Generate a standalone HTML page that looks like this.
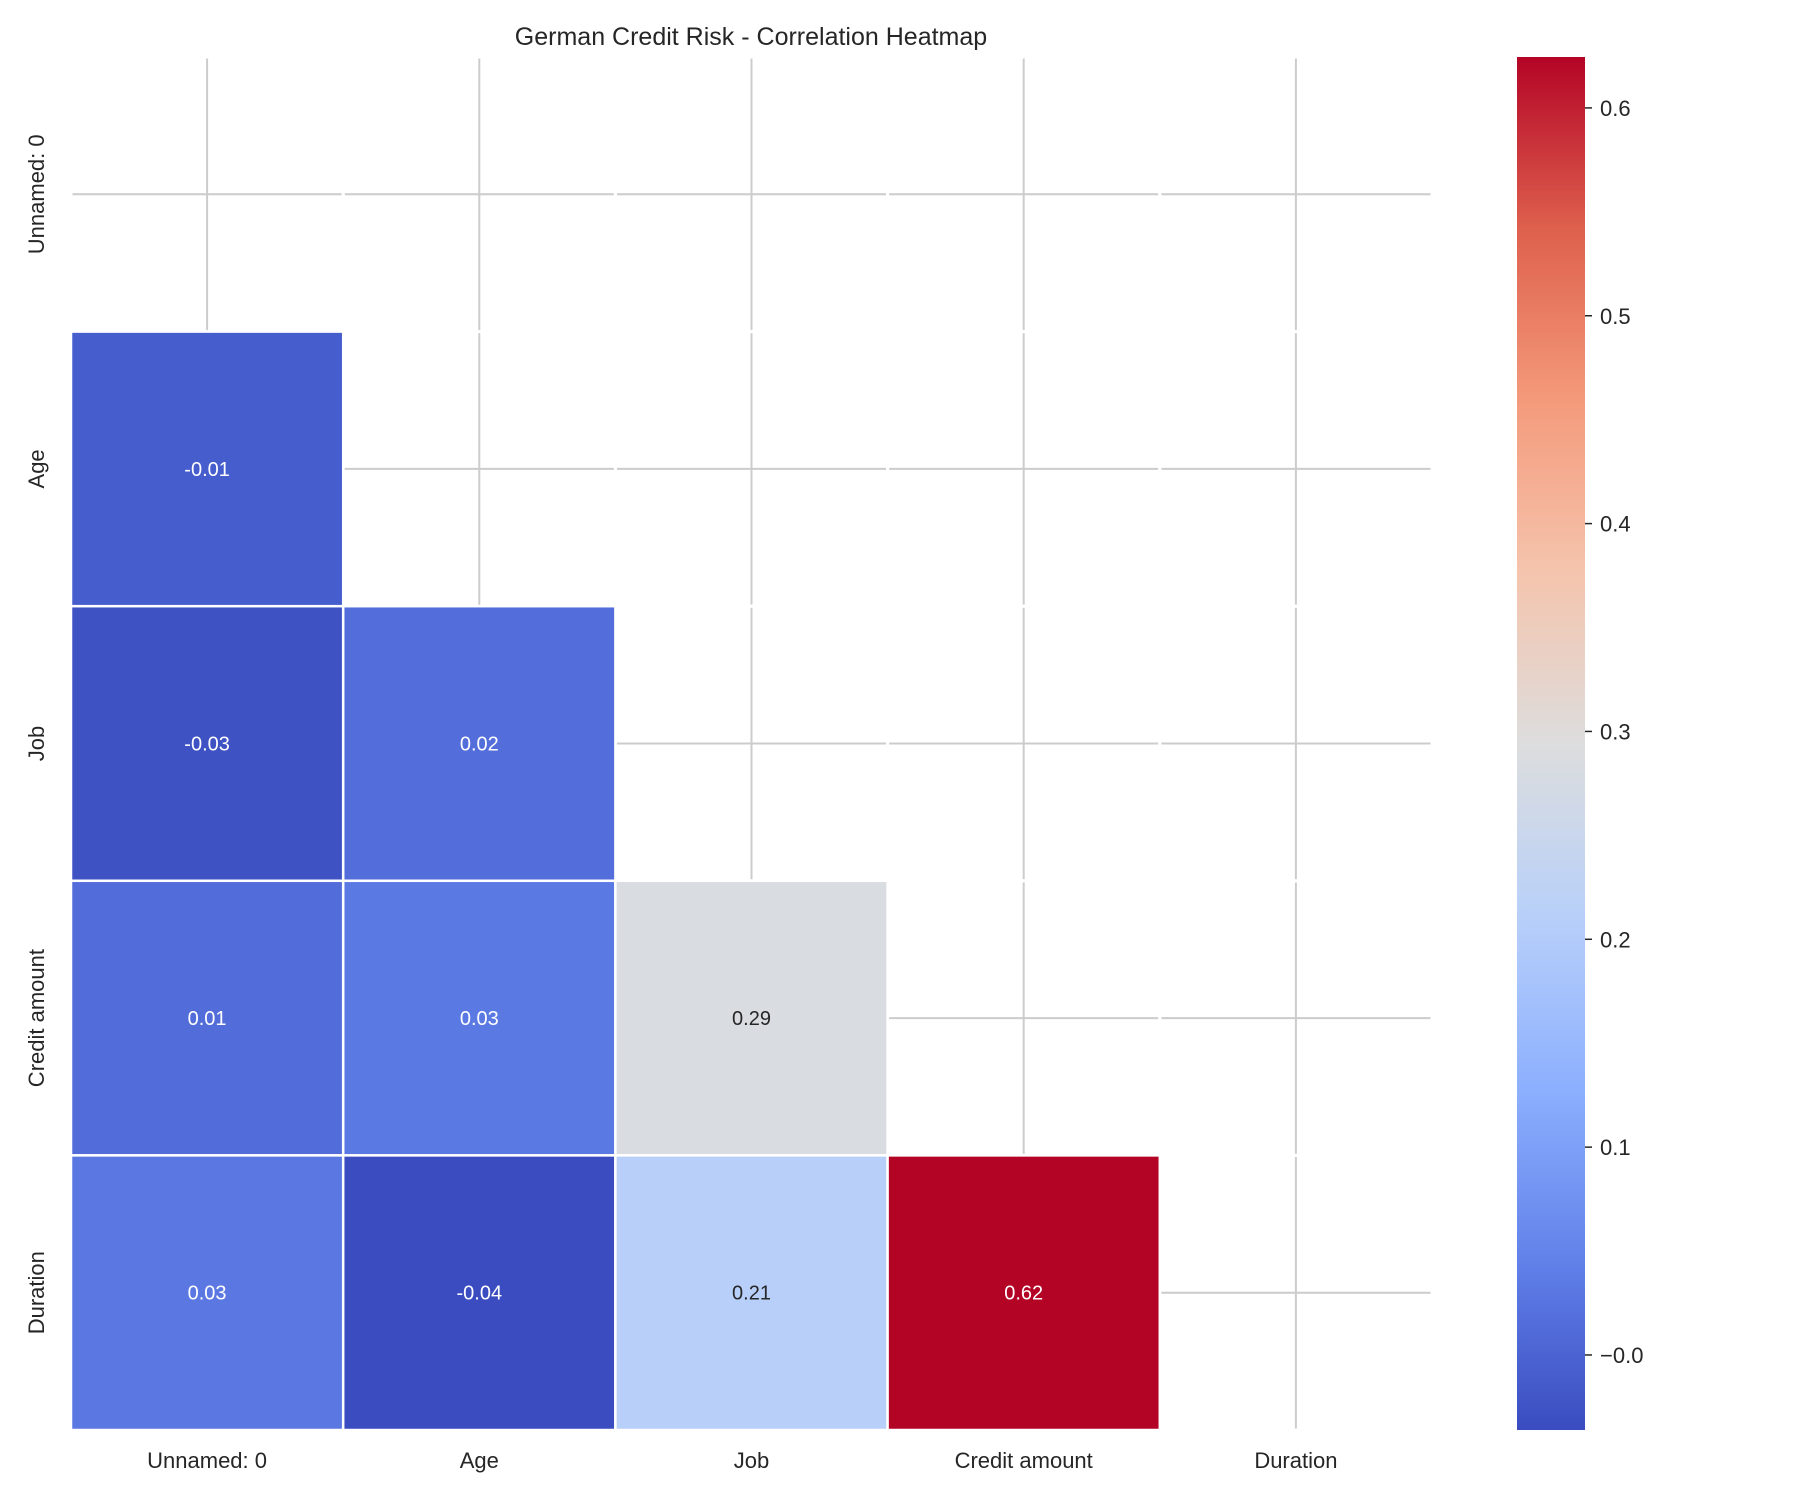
<!DOCTYPE html>
<html><head><meta charset="utf-8"><style>
html,body{margin:0;padding:0;background:#fff;}
svg{display:block;font-family:"Liberation Sans","DejaVu Sans",sans-serif;}
</style></head><body>
<svg id="chart" width="1800" height="1500" viewBox="0 0 1800 1500" xmlns="http://www.w3.org/2000/svg">
<text x="751" y="45" font-size="25" text-anchor="middle" fill="#262626">German Credit Risk - Correlation Heatmap</text>
<g id="grid"></g>
<g id="cells"></g>
<g id="xlabels"></g>
<g id="ylabels"></g>
<defs><linearGradient id="cbgrad" x1="0" y1="1" x2="0" y2="0"></linearGradient></defs>
<rect x="1517" y="57" width="68" height="1373" fill="url(#cbgrad)"/>
<g id="cbticks"></g>
</svg>
<script>
const categories = ["Unnamed: 0","Age","Job","Credit amount","Duration"];
// lower-triangle values, row i has i entries
const rowAge = [-0.0104];
const rowJob = [-0.0275, 0.0157];
const rowCredit = [0.0130, 0.0327, 0.2854];
const rowDuration = [0.0300, -0.0361, 0.2110, 0.6245];
const colorbarTicks = [0.0, 0.1, 0.2, 0.3, 0.4, 0.5, 0.6];

const rows = [[], rowAge, rowJob, rowCredit, rowDuration];
const NS = "http://www.w3.org/2000/svg";
const X0 = 71, X1 = 1432, Y0 = 57, Y1 = 1430;
const n = categories.length;
const cw = (X1 - X0) / n, ch = (Y1 - Y0) / n;
const all = rows.flat();
const vmin = Math.min(...all), vmax = Math.max(...all);
const anchors = [[58,76,192],[98,130,234],[141,176,254],[184,208,249],[221,221,221],[245,196,173],[244,154,123],[222,96,77],[180,4,38]];
function cmap(t){t=Math.max(0,Math.min(1,t));const p=t*8,i=Math.min(7,Math.floor(p)),f=p-i;const a=anchors[i],b=anchors[i+1];
return "rgb("+a.map((v,k)=>Math.round(v+(b[k]-v)*f)).join(",")+")";}
function norm(v){return (v-vmin)/(vmax-vmin);}
function xc(j){return X0+cw*(j+0.5);}
function yc(i){return Y0+ch*(i+0.5);}
function mk(tag,attrs,parent){const e=document.createElementNS(NS,tag);for(const k in attrs)e.setAttribute(k,attrs[k]);parent.appendChild(e);return e;}

const grid=document.getElementById("grid");
for(let j=0;j<n;j++){
  const l=mk("line",{x1:xc(j),x2:xc(j),y1:Y0,y2:Y1,stroke:"#cccccc","stroke-width":2},grid);
  
  
  const h=mk("line",{x1:X0,x2:X1,y1:yc(j),y2:yc(j),stroke:"#cccccc","stroke-width":2},grid);
  
  
}
const cells=document.getElementById("cells");
for(let i=0;i<n;i++){for(let j=i;j<n;j++){
  const m=mk("rect",{x:X0+cw*j,y:Y0+ch*i,width:cw,height:ch,fill:"none",stroke:"#fff","stroke-width":3},cells);
  
  
}}
rows.forEach((r,i)=>r.forEach((v,j)=>{
  const rc=mk("rect",{x:X0+cw*j,y:Y0+ch*i,width:cw,height:ch,fill:cmap(norm(v)),stroke:"#fff","stroke-width":2.5},cells);
  
  
  const t=mk("text",{x:xc(j),y:yc(i)+7,"font-size":20,"text-anchor":"middle",fill:(norm(v)>0.2&&norm(v)<0.8)?"#262626":"#ffffff"},cells);
  t.textContent=v.toFixed(2);
  
  
}));
const xl=document.getElementById("xlabels"), yl=document.getElementById("ylabels");
categories.forEach((c,k)=>{
  const t=mk("text",{x:xc(k),y:1468,"font-size":22,"text-anchor":"middle",fill:"#262626"},xl);
  t.textContent=c;
  
  
  const u=mk("text",{x:0,y:0,"font-size":22,"text-anchor":"middle",fill:"#262626",transform:"translate(44,"+yc(k)+") rotate(-90)"},yl);
  u.textContent=c;
  
  
});
const grad=document.getElementById("cbgrad");
for(let s=0;s<=16;s++){mk("stop",{offset:(s/16),"stop-color":cmap(s/16)},grad);}
const cb=document.getElementById("cbticks");
colorbarTicks.forEach(v=>{
  const y=Y1-(v-vmin)/(vmax-vmin)*(Y1-Y0);
  const l=mk("line",{x1:1585,x2:1592,y1:y,y2:y,stroke:"#262626","stroke-width":1.5},cb);
  
  
  const t=mk("text",{x:1600,y:y+8,"font-size":22,fill:"#262626"},cb);
  t.textContent=(v===0?"\u22120.0":v.toFixed(1));
  
  
});
</script>
</body></html>
